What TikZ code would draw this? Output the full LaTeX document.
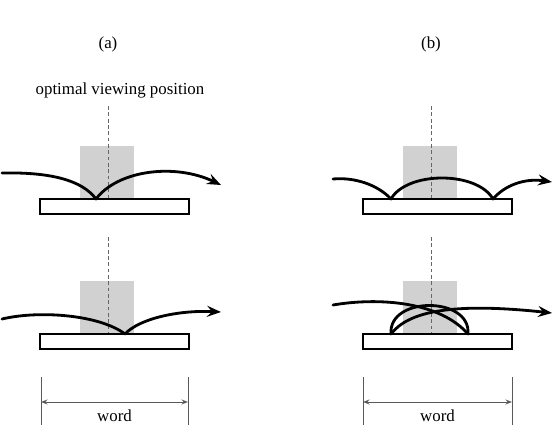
\documentclass[tikz,border=0pt]{standalone}
\usepackage{fontspec}
\setmainfont{Liberation Serif}
\usepackage{tikz}
\usetikzlibrary{arrows.meta}
\newcommand{\widthword}{2.98cm}
\newcommand{\heightword}{0.3cm}
\newcommand{\widthovp}{1.08cm}
\newcommand{\heightovp}{1.06cm}
\tikzset{
    label/.style={font=\fontsize{9.6}{11}\selectfont, inner sep=0pt},
    wordbar/.style={draw, line width=0.8pt, fill=white, rectangle, inner sep=0pt, minimum width=\widthword, minimum height=\heightword},
    ovpbox/.style={fill=black!18, rectangle, inner sep=0pt, minimum width=\widthovp, minimum height=\heightovp},
    ovpline/.style={draw=black!60, line width=0.5pt, dash pattern=on 2.2pt off 1.4pt},
    saccade/.style={line width=1.6pt, line cap=round, line join=round},
    jump/.style={saccade, -{Stealth[length=2.8mm, width=2.2mm, inset=1mm]}},
    dimline/.style={draw=black!65, line width=0.5pt},
    dimarrow/.style={dimline, {Stealth[length=1.3mm, width=1mm, open]}-{Stealth[length=1.3mm, width=1mm, open]}}
}
\begin{document}
\begin{tikzpicture}[x=0.02cm, y=-0.02cm]
    \useasboundingbox (0,0) rectangle (558,429);

    \node[label] (capA) at (108,44) {(a)};
    \node[label] (capB) at (431,44) {(b)};
    \node[label] (ovptext) at (120,90) {optimal viewing position};

    \node[ovpbox] (ovpA1) at (107,172.5) {};
    \node[ovpbox] (ovpA2) at (107,307.5) {};
    \node[ovpbox] (ovpB1) at (430,172.5) {};
    \node[ovpbox] (ovpB2) at (430,307.5) {};

    \coordinate (topA1) at (108,106);
    \coordinate (topA2) at (108,237);
    \coordinate (topB1) at (431,106);
    \coordinate (topB2) at (431,237);

    \node[wordbar] (barA1) at (114.5,206.5) {};
    \node[wordbar] (barA2) at (114.5,341.5) {};
    \node[wordbar] (barB1) at (437.5,206.5) {};
    \node[wordbar] (barB2) at (437.5,341.5) {};

    \draw[ovpline] (topA1) -- (topA1 |- barA1.north);
    \draw[ovpline] (topA2) -- (topA2 |- barA2.north);
    \draw[ovpline] (topB1) -- (topB1 |- barB1.north);
    \draw[ovpline] (topB2) -- (topB2 |- barB2.north);

    % upper row
    \coordinate (inA1) at (2,173);
    \coordinate (fixA1) at (96,199);
    \coordinate (outA1) at (221,185);
    \draw[jump] (inA1) .. controls (50,172) and (82,180) .. (fixA1)
        .. controls (118,170) and (175,163) .. (outA1);

    \coordinate (inB1) at (333,179);
    \coordinate (fixB1) at (391,199);
    \coordinate (fixB2) at (493,199);
    \coordinate (outB1) at (552,182);
    \draw[jump] (inB1) .. controls (355,177) and (378,185) .. (fixB1)
        .. controls (407,171) and (477,171) .. (fixB2)
        .. controls (505,185) and (525,178) .. (outB1);

    % lower row
    \coordinate (inA2) at (2,319);
    \coordinate (fixA2) at (125,334);
    \coordinate (outA2) at (221,312);
    \draw[jump] (inA2) .. controls (40,310) and (100,315) .. (fixA2)
        .. controls (140,318) and (180,310) .. (outA2);

    \coordinate (inB2) at (333,305);
    \coordinate (fixB3) at (468,334);
    \coordinate (fixB4) at (391,334);
    \coordinate (outB2) at (552,313);
    \draw[saccade] (inB2) .. controls (380,297) and (440,302) .. (fixB3);
    \draw[saccade] (fixB3) .. controls (471,296) and (388,296) .. (fixB4);
    \draw[jump] (fixB4) .. controls (408,312) and (450,302) .. (outB2);

    % word length
    \coordinate (dimA1) at (41,402);
    \coordinate (dimA2) at (188,402);
    \coordinate (dimB1) at (363,402);
    \coordinate (dimB2) at (512,402);
    \draw[dimline] ([yshift=14] dimA1) -- ([yshift=-13] dimA1);
    \draw[dimline] ([yshift=14] dimA2) -- ([yshift=-13] dimA2);
    \draw[dimline] ([yshift=14] dimB1) -- ([yshift=-13] dimB1);
    \draw[dimline] ([yshift=14] dimB2) -- ([yshift=-13] dimB2);
    \draw[dimarrow] (dimA1) -- (dimA2);
    \draw[dimarrow] (dimB1) -- (dimB2);
    \node[label] (wordA) at (114.5,416) {word};
    \node[label] (wordB) at (437.5,416) {word};
\end{tikzpicture}
\end{document}
